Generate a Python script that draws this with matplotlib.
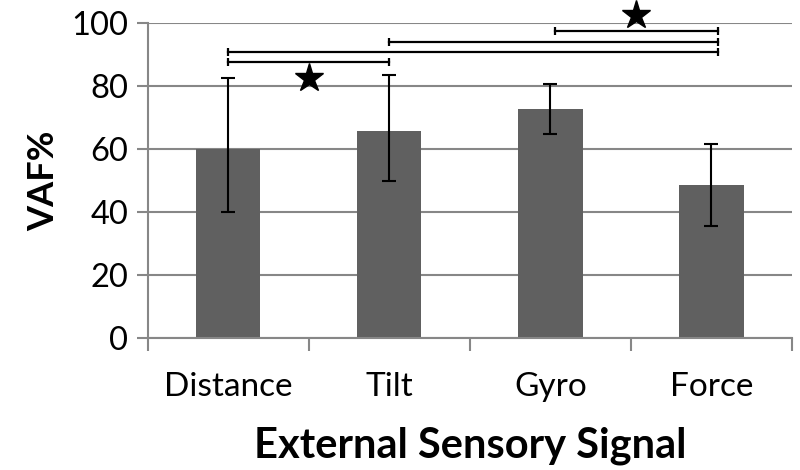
import matplotlib
matplotlib.use('Agg')
import matplotlib.pyplot as plt
from matplotlib.ticker import FixedLocator

plt.rcParams['font.family'] = ['Lato', 'DejaVu Sans']

# data
signals = ['Distance', 'Tilt', 'Gyro', 'Force']
vaf = [60.1, 65.7, 72.7, 48.5]
err_low = [39.9, 49.7, 64.8, 35.5]
err_high = [82.6, 83.5, 80.6, 61.6]

# significance brackets: (from, to, height), stars: (x between, height)
brackets = [(0, 1, 87.4), (0, 3.04, 90.8), (1, 3.04, 94.0), (2.03, 3.04, 97.4)]
stars = [(0.5, 82.4), (2.53, 102.4)]

fig = plt.figure(figsize=(8, 4.7), dpi=100)
ax = fig.add_axes([0.1845, 0.2802, 0.8055, 0.6715])

xs = list(range(len(signals)))
lower = [v - lo for v, lo in zip(vaf, err_low)]
upper = [hi - v for v, hi in zip(vaf, err_high)]

ax.bar(xs, vaf, width=0.4, color='#606060', zorder=2)
ax.errorbar(xs, vaf, yerr=[lower, upper], fmt='none', ecolor='black',
            elinewidth=1.5, capsize=4.8, capthick=1.5, zorder=3)

for a, b, h in brackets:
    ax.plot([a, b], [h, h], color='black', lw=1.6, zorder=3, clip_on=False)
    ax.plot([a, b], [h, h], ls='none', marker='|', ms=6, mew=1.6,
            color='black', zorder=3, clip_on=False)
for x, h in stars:
    ax.plot(x, h, marker='*', ms=21, color='black', zorder=4, clip_on=False)

ax.set_xlim(-0.5, 3.5)
ax.set_ylim(0, 100)
ax.set_yticks([0, 20, 40, 60, 80, 100])
ax.yaxis.grid(True, color='#878787', lw=1.5, zorder=0)
ax.set_axisbelow(True)

ax.set_xticks(xs)
ax.set_xticklabels(signals)
ax.xaxis.set_minor_locator(FixedLocator([-0.5, 0.5, 1.5, 2.5, 3.5]))
ax.tick_params(axis='x', which='major', length=0, pad=24, labelsize=24)
ax.tick_params(axis='x', which='minor', length=9, width=1.5, color='#878787',
               direction='out')
ax.tick_params(axis='y', length=8, width=1.5, color='#878787', labelsize=23.5,
               pad=6)

for s in ['top', 'right']:
    ax.spines[s].set_visible(False)
for s in ['left', 'bottom']:
    ax.spines[s].set_color('#878787')
    ax.spines[s].set_linewidth(1.5)

ax.set_ylabel('VAF%', fontsize=26, fontweight='bold', labelpad=8)
ax.set_xlabel('External Sensory Signal', fontsize=30, fontweight='bold',
              labelpad=18)

fig.savefig('out.png', dpi=100)
